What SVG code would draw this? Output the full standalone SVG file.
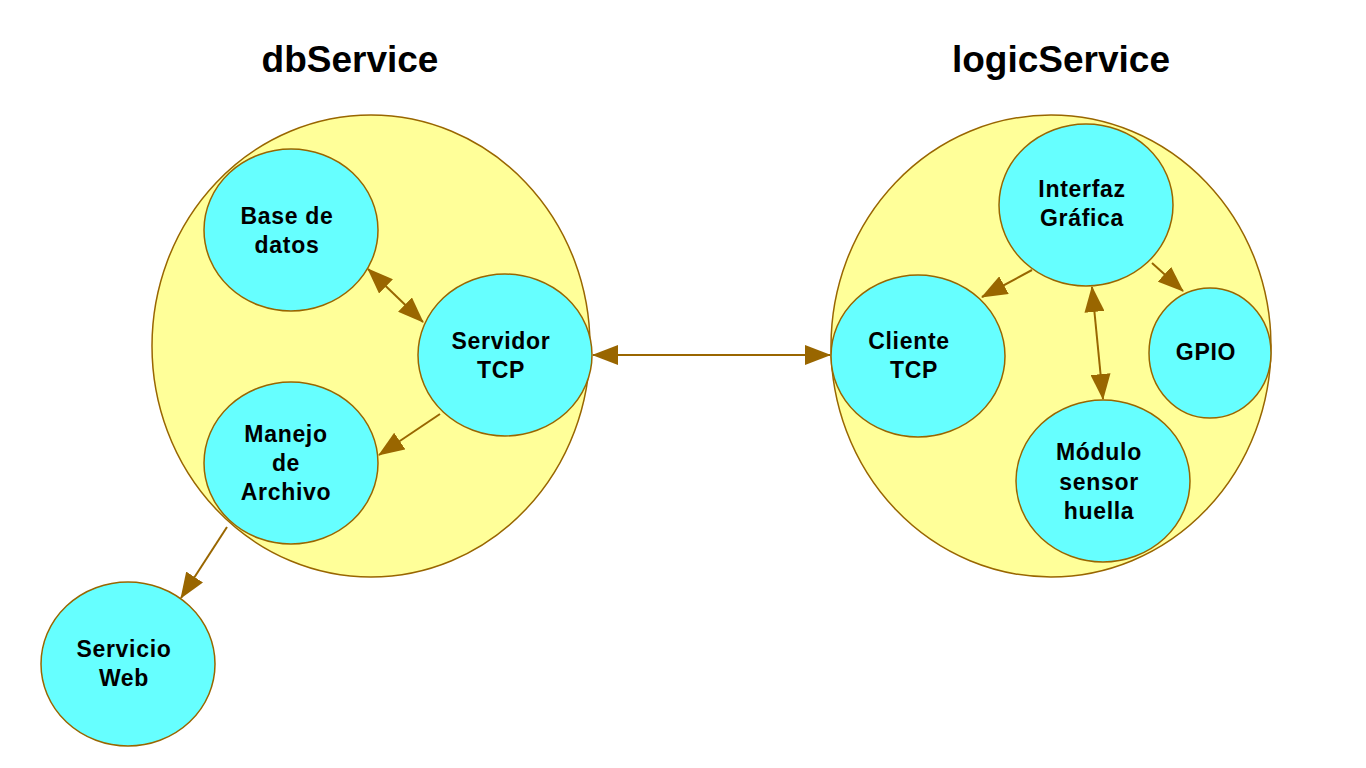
<svg xmlns="http://www.w3.org/2000/svg" width="1366" height="768" viewBox="0 0 1366 768">
<defs>
<style>
.big{fill:#ffff99;stroke:#996600;stroke-width:1.5}
.node{fill:#66ffff;stroke:#996600;stroke-width:1.5}
.lbl{font-family:"Liberation Sans",Arial,sans-serif;font-weight:bold;font-size:23px;letter-spacing:0.7px;fill:#000;text-anchor:middle}
.title{font-family:"Liberation Sans",Arial,sans-serif;font-weight:bold;font-size:37px;fill:#000;text-anchor:middle}
.con{stroke:#996600;stroke-width:2;fill:none}
</style>
<marker id="ah" markerUnits="userSpaceOnUse" markerWidth="26" markerHeight="20" viewBox="0 0 26 20" refX="25" refY="10" orient="auto-start-reverse">
<path d="M0,0 L26,10 L0,20 z" fill="#996600"/>
</marker>
</defs>
<rect width="1366" height="768" fill="#fff"/>
<text class="title" x="350" y="72">dbService</text>
<text class="title" x="1061" y="72">logicService</text>
<g id="dbService"><ellipse class="big" cx="371" cy="346" rx="219" ry="231"/></g>
<g id="logicService"><ellipse class="big" cx="1051" cy="346" rx="220" ry="231"/></g>
<g id="baseDatos"><ellipse class="node" cx="291" cy="230" rx="87" ry="81"/><text class="lbl" x="287" y="224">Base de</text><text class="lbl" x="287" y="253">datos</text></g>
<g id="servidorTCP"><ellipse class="node" cx="505" cy="355" rx="87" ry="81"/><text class="lbl" x="501" y="349">Servidor</text><text class="lbl" x="501" y="378">TCP</text></g>
<g id="manejoArchivo"><ellipse class="node" cx="291" cy="463" rx="87" ry="81"/><text class="lbl" x="286" y="442">Manejo</text><text class="lbl" x="286" y="471">de</text><text class="lbl" x="286" y="500">Archivo</text></g>
<g id="servicioWeb"><ellipse class="node" cx="128" cy="664" rx="87" ry="82"/><text class="lbl" x="124" y="657">Servicio</text><text class="lbl" x="124" y="686">Web</text></g>
<g id="interfazGrafica"><ellipse class="node" cx="1086" cy="205" rx="87" ry="81"/><text class="lbl" x="1082" y="197">Interfaz</text><text class="lbl" x="1082" y="226">Gráfica</text></g>
<g id="clienteTCP"><ellipse class="node" cx="918" cy="356" rx="87" ry="81"/><text class="lbl" x="909" y="349">Cliente</text><text class="lbl" x="914" y="378">TCP</text></g>
<g id="gpio"><ellipse class="node" cx="1210" cy="353" rx="61" ry="65"/><text class="lbl" x="1206" y="360">GPIO</text></g>
<g id="moduloSensor"><ellipse class="node" cx="1103" cy="481" rx="87" ry="81"/><text class="lbl" x="1099" y="460">Módulo</text><text class="lbl" x="1099" y="490">sensor</text><text class="lbl" x="1099" y="519">huella</text></g>
<g id="connectors">
<line class="con" x1="368" y1="269" x2="423" y2="322" marker-start="url(#ah)" marker-end="url(#ah)"/>
<line class="con" x1="440" y1="414" x2="379" y2="455" marker-end="url(#ah)"/>
<line class="con" x1="593" y1="355" x2="830" y2="355" marker-start="url(#ah)" marker-end="url(#ah)"/>
<line class="con" x1="1032" y1="270" x2="982" y2="297" marker-end="url(#ah)"/>
<line class="con" x1="1152" y1="263" x2="1183" y2="291" marker-end="url(#ah)"/>
<line class="con" x1="1092" y1="287" x2="1103" y2="399" marker-start="url(#ah)" marker-end="url(#ah)"/>
<line class="con" x1="227" y1="527" x2="181" y2="598" marker-end="url(#ah)"/>
</g>
</svg>
